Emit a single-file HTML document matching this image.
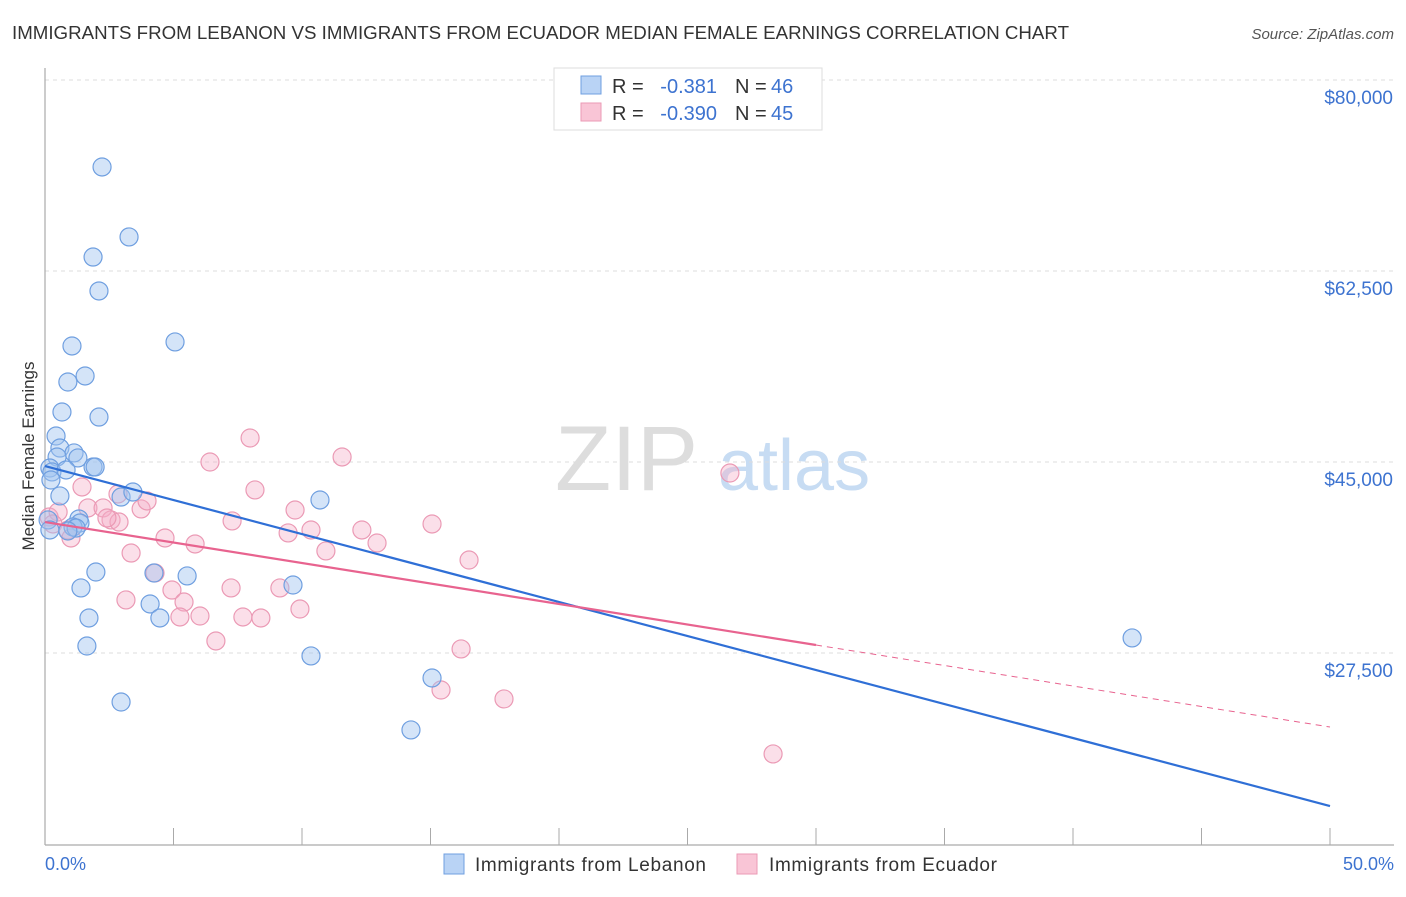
<!DOCTYPE html>
<html><head><meta charset="utf-8"><style>
body{margin:0;background:#fff;font-family:"Liberation Sans",sans-serif;}
svg text{font-family:"Liberation Sans",sans-serif;}
</style></head><body>
<svg id="chart" width="1406" height="892" viewBox="0 0 1406 892" xmlns="http://www.w3.org/2000/svg">
<text x="12" y="39" font-size="18" fill="#333" textLength="1057" lengthAdjust="spacingAndGlyphs">IMMIGRANTS FROM LEBANON VS IMMIGRANTS FROM ECUADOR MEDIAN FEMALE EARNINGS CORRELATION CHART</text>
<text x="1394" y="39" font-size="15" fill="#555" text-anchor="end" font-style="italic">Source: ZipAtlas.com</text>
<g>
<text x="555" y="490" font-size="92" fill="#ddd" font-family="Liberation Serif, serif">ZIP</text>
<text x="718" y="490" font-size="72" fill="#c7dcf3">atlas</text>
</g>
<g id="grid"></g>
<line x1="45" y1="68" x2="45" y2="845" stroke="#aaa" stroke-width="1.2"/>
<line x1="45" y1="845" x2="1394" y2="845" stroke="#aaa" stroke-width="1.2"/>
<g id="xticks"></g>
<text transform="translate(34,456) rotate(-90)" font-size="17" fill="#333" text-anchor="middle">Median Female Earnings</text>
<text x="45" y="870" font-size="18" fill="#3d73d0">0.0%</text>
<text x="1394" y="870" font-size="18" fill="#3d73d0" text-anchor="end">50.0%</text>
<g id="pts-pink"></g>
<g id="pts-blue"></g>
<g id="trends"></g>
<g>
<rect x="554" y="68" width="268" height="62" fill="#fff" stroke="#ddd"/>
<rect x="581" y="76" width="20" height="18" fill="#b9d3f5" stroke="#6f9fe0"/>
<rect x="581" y="103" width="20" height="18" fill="#f9c5d6" stroke="#eb9ab5"/>
<text x="612" y="93" font-size="20" fill="#333">R =</text>
<text x="717" y="93" font-size="20" fill="#3d73d0" text-anchor="end">-0.381</text>
<text x="735" y="93" font-size="20" fill="#333">N =</text>
<text x="771" y="93" font-size="20" fill="#3d73d0">46</text>
<text x="612" y="120" font-size="20" fill="#333">R =</text>
<text x="717" y="120" font-size="20" fill="#3d73d0" text-anchor="end">-0.390</text>
<text x="735" y="120" font-size="20" fill="#333">N =</text>
<text x="771" y="120" font-size="20" fill="#3d73d0">45</text>
</g>
<g>
<rect x="444" y="854" width="20" height="20" fill="#b9d3f5" stroke="#6f9fe0"/>
<text x="475" y="871" font-size="19" fill="#333" textLength="231">Immigrants from Lebanon</text>
<rect x="737" y="854" width="20" height="20" fill="#f9c5d6" stroke="#eb9ab5"/>
<text x="769" y="871" font-size="19" fill="#333" textLength="228">Immigrants from Ecuador</text>
</g>
</svg>
<script>
const yTicks=[80000,62500,45000,27500];
const yTickLabels=["$80,000","$62,500","$45,000","$27,500"];
const xTicks=[0,5,10,15,20,25,30,35,40,45,50];
const lebanonX=[2.22,3.27,1.87,2.10,1.05,5.06,0.89,1.56,0.66,2.10,0.43,0.58,1.13,1.28,0.47,0.19,0.27,0.82,1.87,1.95,0.23,0.58,2.96,3.42,10.70,1.32,1.36,1.09,1.21,0.89,1.98,4.24,5.53,9.65,1.40,4.09,4.47,1.71,1.63,10.35,15.06,2.96,14.24,42.30,0.12,0.19];
const lebanonY=[72030,65620,63780,60670,55630,56000,52330,52880,49580,49120,47380,46280,45830,45370,45460,44450,44090,44270,44540,44540,43350,41890,41790,42250,41520,39780,39410,39050,38950,38680,34920,34830,34560,33730,33460,31990,30710,30710,28140,27230,25210,23010,20450,28880,39690,38770];
const ecuadorX=[0.16,0.51,0.31,0.89,1.01,1.44,1.67,2.26,2.57,2.88,2.41,2.84,3.74,3.97,3.35,3.15,4.28,4.67,4.94,5.41,5.25,5.84,6.03,6.42,6.65,7.24,7.28,7.70,7.98,8.17,8.40,9.14,9.46,9.73,9.92,10.35,10.93,11.56,12.33,12.92,15.06,16.50,16.19,15.41,17.86,26.65,28.33];
const ecuadorY=[39960,40420,39320,38770,38040,42710,40790,40790,39690,39500,39870,42070,40700,41430,36660,32360,34830,38040,33270,32170,30800,37490,30890,45000,28600,33460,39600,30800,47200,42440,30710,33460,38500,40600,31530,38770,36850,45460,38770,37580,39320,36020,27870,24110,23290,43990,18250];
const lebanonTrend=[44630,13480];
const ecuadorTrend=[39500,20720];
const ecuadorSolidEnd=30;
const NS="http://www.w3.org/2000/svg";
const xs=v=>45+v*25.7;
const ys=v=>80+(80000-v)*191/17500;
function mk(t,a,p){const e=document.createElementNS(NS,t);for(const k in a)e.setAttribute(k,a[k]);p.appendChild(e);return e;}
const grid=document.getElementById('grid');
yTicks.forEach((v,i)=>{
 const l=mk('line',{x1:45,x2:1394,y1:ys(v),y2:ys(v),stroke:'#ddd','stroke-dasharray':'4,4'},grid);
 
 
 const t=mk('text',{x:1393,y:ys(v)+24,'font-size':19,fill:'#3d73d0','text-anchor':'end'},grid);
 
 
 t.textContent=yTickLabels[i];
});
const xt=document.getElementById('xticks');
xTicks.forEach(v=>{
 const l=mk('line',{x1:xs(v),x2:xs(v),y1:828,y2:845,stroke:'#aaa'},xt);
 
 
});
function pts(X,Y,g,fill,stroke,name){
 X.forEach((x,i)=>{
  const c=mk('circle',{cx:xs(x),cy:ys(Y[i]),r:9,fill:fill,stroke:stroke,'stroke-width':1.2},g);
  
  
 });
}
pts(ecuadorX,ecuadorY,document.getElementById('pts-pink'),'rgba(246,175,200,0.4)','#eb9ab5','ecuador-point');
pts(lebanonX,lebanonY,document.getElementById('pts-blue'),'rgba(160,195,240,0.45)','#6f9fe0','lebanon-point');
const tr=document.getElementById('trends');
const bl=mk('line',{x1:xs(0),y1:ys(lebanonTrend[0]),x2:xs(50),y2:ys(lebanonTrend[1]),stroke:'#2f6fd6','stroke-width':2.2},tr);


const pe=ecuadorTrend[0]+(ecuadorTrend[1]-ecuadorTrend[0])*ecuadorSolidEnd/50;
const pl=mk('line',{x1:xs(0),y1:ys(ecuadorTrend[0]),x2:xs(ecuadorSolidEnd),y2:ys(pe),stroke:'#e8638f','stroke-width':2.2},tr);


const pd=mk('line',{x1:xs(ecuadorSolidEnd),y1:ys(pe),x2:xs(50),y2:ys(ecuadorTrend[1]),stroke:'#e8638f','stroke-width':1,'stroke-dasharray':'6,5'},tr);


</script>
</body></html>
